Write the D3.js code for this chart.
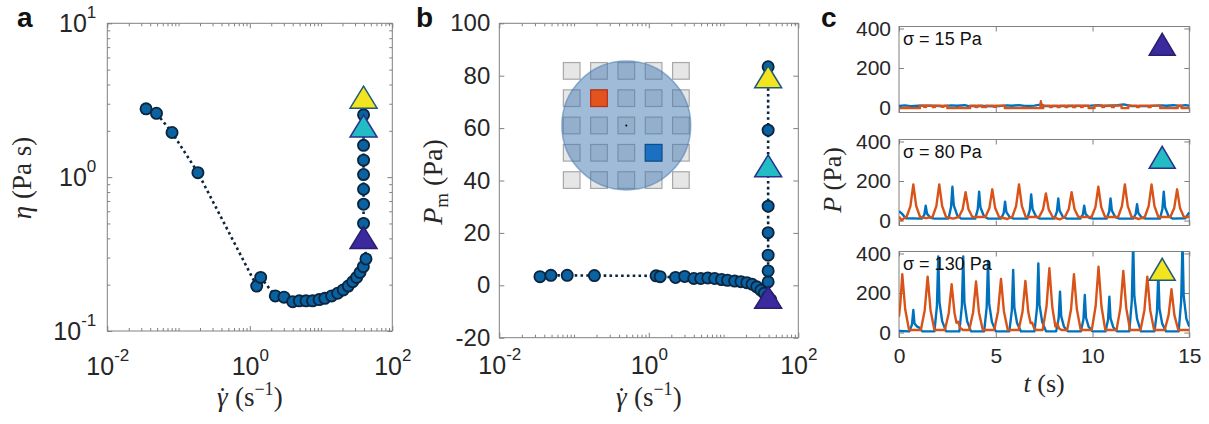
<!DOCTYPE html>
<html>
<head>
<meta charset="utf-8">
<script src="https://cdn.jsdelivr.net/npm/d3@7"></script>
<style>
  body { margin: 0; background: #fff; }
  svg { display: block; }
</style>
</head>
<body>
<script>
// ---------- data ----------
// a / b : flow curve, shared shear rates (s^-1)
const shearRate = [0.035, 0.049, 0.081, 0.187, 1.25, 1.42, 2.28, 3.02, 4.0, 4.95, 6.15, 7.6, 9.4, 11.3, 14.1, 17.1, 20.5, 24.1, 27.8, 31.6, 35.2, 39.2, 42.7];
const viscosity = [2.78, 2.6, 1.95, 1.07, 0.196, 0.223, 0.169, 0.166, 0.155, 0.157, 0.157, 0.157, 0.16, 0.163, 0.169, 0.176, 0.185, 0.196, 0.209, 0.223, 0.24, 0.262, 0.294];
const meanPressure = [3.3, 3.8, 3.8, 3.7, 3.6, 3.3, 3.0, 3.4, 2.6, 2.6, 2.8, 2.6, 2.2, 1.9, 1.6, 1.4, 1.0, 0.4, -0.6, -1.9, -3.0, -4.2, -5.5];
// vertical branch at the critical shear rate
const branchRate = 39.5;
const branchViscosity = [0.5, 0.667, 0.834, 1.04, 1.29, 1.61, 2.05, 2.54];
const branchPressure = [1.3, 5.5, 11.5, 20.1, 30.2, 45, 59.2, 83.4];
// the three highlighted stresses
const stressLabels = ["σ = 15 Pa", "σ = 80 Pa", "σ = 130 Pa"];
const stressViscosity = [0.405, 2.15, 3.31];
const stressPressure = [-4.6, 45.6, 79.6];
const stressFill = ["#3b2a9e", "#21bcc4", "#f2e41e"];
const stressEdge = ["#2a1f70", "#2a318c", "#1f5a78"];

// axes
const rateDomain = [1e-2, 1e2];
const rateMajor = [1e-2, 1, 1e2];
const etaDomain = [0.1, 10];
const etaMajor = [0.1, 1, 10];
const pmDomain = [-20, 100];
const pmTicks = [-20, 0, 20, 40, 60, 80, 100];
const timeDomain = [0, 15];
const timeTicks = [0, 5, 10, 15];
const pDomain = [-25, 410];
const pTicks = [0, 200, 400];

// inset: 5x5 sensor grid, two active sensors (grid units)
const gridIdx = [-2, -1, 0, 1, 2];
const activeCells = [[-1, -1, "#e2531d", "#b8321a"], [1, 1, "#1b70c1", "#0d4f8c"]];
const dropRadius = 2.36;
const cellSize = 0.61;

// c : pressure traces [t (s), P (Pa)]
const blue15 = [[0, 8], [0.3, 11], [0.6, 7], [1.0, 10], [1.6, 9], [2.3, 7], [2.7, 11], [3.0, 9], [3.4, 12], [3.6, 7], [4.3, 8], [5.0, 6], [5.6, 11], [5.8, 9], [6.2, 12], [6.5, 8], [7.0, 10], [7.37, 16], [7.5, 8], [8.2, 7], [9.0, 8], [9.9, 10], [10.3, 12], [10.6, 8], [11.3, 12], [11.6, 16], [12.0, 8], [12.8, 7], [13.6, 11], [13.8, 9], [14.2, 12], [14.5, 8], [14.8, 12], [15, 9]];
const orange15 = [[0, -3], [0.4, -3], [0.4, 2], [0.5, 2], [0.5, -3], [1.08, -3], [1.08, 10], [1.3, 10], [1.3, 3], [1.4, 3], [1.4, 10], [1.75, 10], [1.75, 2], [1.85, 2], [1.85, 10], [2.2, 10], [2.2, 4], [2.3, 4], [2.3, 10], [2.5, 10], [2.5, -3], [3.1, -3], [3.1, 1], [3.2, 1], [3.2, -3], [3.67, -3], [3.67, 10], [3.95, 10], [3.95, 3], [4.05, 3], [4.05, 10], [4.3, 10], [4.3, 2], [4.5, 2], [4.5, 10], [4.9, 10], [4.9, 4], [5.0, 4], [5.0, 10], [5.47, 10], [5.47, -3], [6.4, -3], [6.4, 1], [6.5, 1], [6.5, -3], [7.3, -3], [7.33, 32], [7.37, -3], [7.45, -3], [7.45, 10], [7.8, 10], [7.8, 3], [7.9, 3], [7.9, 10], [8.2, 10], [8.2, 2], [8.3, 2], [8.3, 10], [8.6, 10], [8.6, 3], [8.7, 3], [8.7, 10], [9.0, 10], [9.0, 2], [9.1, 2], [9.1, 10], [9.4, 10], [9.4, 3], [9.5, 3], [9.5, 10], [9.8, 10], [9.8, -3], [10.1, -3], [10.1, 10], [10.5, 10], [10.5, 3], [10.6, 3], [10.6, 10], [11.0, 10], [11.0, 2], [11.1, 2], [11.1, 10], [11.5, 10], [11.5, -3], [11.85, -3], [11.85, 10], [12.3, 10], [12.3, 3], [12.4, 3], [12.4, 10], [12.9, 10], [12.9, 2], [13.0, 2], [13.0, 10], [13.5, 10], [13.5, -3], [14.4, -3], [14.4, 10], [14.6, 10], [14.6, -3], [15, -3]];

const blue80 = [[0, 48], [0.15, 35], [0.35, 12], [1.18, 10], [1.31, 30], [1.38, 75], [1.45, 34], [1.63, 14], [1.83, 10], [2.56, 10], [2.69, 68], [2.76, 171], [2.83, 77], [3.01, 26], [3.21, 10], [3.94, 10], [4.07, 58], [4.14, 146], [4.21, 66], [4.39, 22], [4.59, 10], [5.28, 10], [5.41, 38], [5.48, 95], [5.55, 43], [5.73, 16], [5.93, 10], [6.63, 10], [6.76, 53], [6.83, 132], [6.9, 59], [7.08, 20], [7.28, 10], [8.03, 10], [8.16, 45], [8.23, 112], [8.3, 50], [8.48, 17], [8.68, 10], [9.37, 10], [9.5, 30], [9.57, 75], [9.64, 34], [9.82, 14], [10.02, 10], [10.73, 10], [10.86, 45], [10.93, 112], [11.0, 50], [11.18, 17], [11.38, 10], [12.1, 10], [12.23, 33], [12.3, 83], [12.37, 37], [12.55, 14], [12.75, 10], [13.48, 10], [13.61, 58], [13.68, 146], [13.75, 66], [13.93, 22], [14.13, 10], [14.8, 12], [14.92, 30], [15, 41]];
const orange80 = [[0, 20], [0.12, 2], [0.3, 14], [0.39, 18], [0.59, 73], [0.74, 183], [0.89, 73], [1.09, 18], [1.4, 12], [1.73, 18], [1.93, 73], [2.08, 183], [2.23, 73], [2.43, 18], [2.8, 10], [3.09, 18], [3.29, 57], [3.44, 143], [3.59, 57], [3.79, 18], [4.47, 18], [4.67, 63], [4.82, 158], [4.97, 63], [5.17, 18], [5.6, 8], [5.85, 18], [6.05, 73], [6.2, 183], [6.35, 73], [6.55, 18], [7.24, 18], [7.44, 55], [7.59, 137], [7.74, 55], [7.94, 18], [8.3, 6], [8.57, 18], [8.77, 57], [8.92, 143], [9.07, 57], [9.27, 18], [9.95, 18], [10.15, 68], [10.3, 171], [10.45, 68], [10.65, 18], [11.32, 18], [11.52, 73], [11.67, 183], [11.82, 73], [12.02, 18], [12.4, 8], [12.7, 18], [12.9, 73], [13.05, 183], [13.2, 73], [13.4, 18], [14.02, 18], [14.22, 63], [14.37, 158], [14.52, 63], [14.72, 18], [15, 18]];

const blue130 = [[0, 8], [0.54, 6], [0.67, 40], [0.74, 114], [0.8, 46], [0.94, 30], [1.05, 25], [1.2, 6], [1.83, 6], [1.96, 135], [2.03, 385], [2.09, 154], [2.23, 58], [2.43, 6], [3.12, 6], [3.25, 135], [3.32, 385], [3.38, 154], [3.52, 58], [3.72, 6], [4.4, 6], [4.53, 127], [4.6, 362], [4.66, 145], [4.8, 54], [5.0, 6], [5.7, 6], [5.83, 111], [5.9, 317], [5.96, 127], [6.1, 48], [6.3, 6], [7.0, 6], [7.13, 123], [7.2, 350], [7.26, 140], [7.4, 53], [7.6, 6], [8.12, 6], [8.25, 72], [8.32, 207], [8.38, 83], [8.52, 31], [8.72, 6], [9.4, 6], [9.53, 67], [9.6, 190], [9.66, 76], [9.8, 29], [10.0, 6], [10.67, 6], [10.8, 63], [10.87, 181], [10.93, 72], [11.07, 27], [11.27, 6], [11.9, 6], [12.03, 161], [12.1, 460], [12.16, 184], [12.3, 69], [12.5, 6], [13.2, 6], [13.33, 105], [13.4, 300], [13.46, 120], [13.6, 45], [13.8, 6], [14.45, 6], [14.58, 161], [14.65, 460], [14.71, 184], [14.85, 69], [15, 30]];
const orange130 = [[0, 80], [0.07, 150], [0.17, 295], [0.32, 118], [0.52, 13], [1.13, 13], [1.33, 113], [1.48, 283], [1.63, 113], [1.83, 13], [2.37, 13], [2.57, 98], [2.72, 244], [2.87, 98], [2.97, 50], [3.05, 55], [3.15, 25], [3.3, 13], [3.63, 13], [3.83, 103], [3.98, 258], [4.13, 103], [4.33, 13], [4.92, 13], [5.12, 108], [5.27, 271], [5.42, 108], [5.62, 13], [6.18, 13], [6.38, 104], [6.53, 261], [6.68, 104], [6.8, 48], [6.88, 50], [6.98, 22], [7.1, 13], [7.42, 13], [7.62, 130], [7.77, 325], [7.92, 130], [8.08, 30], [8.18, 45], [8.28, 20], [8.4, 13], [8.69, 13], [8.89, 118], [9.04, 295], [9.19, 118], [9.39, 13], [9.96, 13], [10.16, 133], [10.31, 333], [10.46, 133], [10.66, 13], [11.24, 13], [11.44, 125], [11.59, 312], [11.74, 125], [11.94, 13], [12.48, 13], [12.68, 113], [12.83, 283], [12.98, 113], [13.18, 13], [13.73, 13], [13.93, 88], [14.08, 219], [14.23, 88], [14.43, 13], [15, 13]];
const traces = [[blue15, orange15], [blue80, orange80], [blue130, orange130]];
const cMarker = [13.6, 320];

// ---------- layout & style ----------
const width = 1209, height = 424;
const boxA = { l: 107.3, r: 392.3, t: 23.3, b: 331 };
const boxB = { l: 499.3, r: 798.3, t: 23.3, b: 337.7 };
const boxC = { l: 899, r: 1189.3, h: 86, tops: [26.5, 139.5, 251.5] };
const insetAt = [0.5, 61];
const insetHalf = 54.6;
const axisColor = "#808080";
const textColor = "#262626";
const dotFill = "#0b62a0", dotEdge = "#0a2540";
const lineBlue = "#0072bd", lineOrange = "#d95319";
const serif = "'Liberation Serif', 'DejaVu Serif', serif";

const svg = d3.select("body").append("svg")
    .attr("width", width)
    .attr("height", height)
    .attr("font-family", "'Liberation Sans', Arial, sans-serif");

// box with inside ticks on all four sides (MATLAB look)
function drawFrame(x, y, o) {
    const [l, r] = x.range();
    const [b, t] = y.range();
    const g = svg.append("g").attr("color", axisColor);

    const add = (axis, tx, ty, size) => g.append("g")
        .attr("transform", `translate(${tx},${ty})`)
        .call(axis.tickSizeInner(-size).tickSizeOuter(0))
        .call(s => s.select(".domain").remove())
        .attr("font-family", null)
        .attr("font-size", o.fs);

    const xb = add(d3.axisBottom(x).tickValues(o.xMajor).tickPadding(o.xPad).tickFormat(o.xFmt || (() => "")), 0, b, 5);
    add(d3.axisTop(x).tickValues(o.xMajor).tickFormat(""), 0, t, 5);
    const yl = add(d3.axisLeft(y).tickValues(o.yMajor).tickPadding(o.yPad).tickFormat(o.yFmt), l, 0, 5);
    add(d3.axisRight(y).tickValues(o.yMajor).tickFormat(""), r, 0, 5);

    if (o.xMinor) {
        add(d3.axisBottom(x).tickValues(o.xMinor).tickFormat(""), 0, b, 3);
        add(d3.axisTop(x).tickValues(o.xMinor).tickFormat(""), 0, t, 3);
    }
    if (o.yMinor) {
        add(d3.axisLeft(y).tickValues(o.yMinor).tickFormat(""), l, 0, 3);
        add(d3.axisRight(y).tickValues(o.yMinor).tickFormat(""), r, 0, 3);
    }

    g.append("rect")
        .attr("x", l).attr("y", t)
        .attr("width", r - l).attr("height", b - t)
        .attr("fill", "none")
        .attr("stroke", axisColor);

    g.selectAll("text").attr("fill", textColor);
    return { xb, yl };
}

// "10" with a raised exponent
function powerLabels(sel) {
    sel.selectAll(".tick text").each(function (d) {
        const t = d3.select(this).text("10");
        t.append("tspan")
            .attr("dy", -14)
            .attr("font-size", 17)
            .text(Math.round(Math.log10(d)));
    });
}

const minorOf = (scale, major) => scale.ticks().filter(d => !major.some(m => Math.abs(m - d) / m < 1e-9));

function triPath(w, h) {
    return `M0,${-h / 2}L${w / 2},${h / 2}L${-w / 2},${h / 2}Z`;
}

function panelLetter(txt, x) {
    svg.append("text")
        .attr("x", x).attr("y", 27)
        .attr("font-size", 28)
        .attr("font-weight", "bold")
        .attr("fill", "#111")
        .text(txt);
}

function rateLabel(cx) {
    const t = svg.append("text")
        .attr("x", cx).attr("y", 406)
        .attr("text-anchor", "middle")
        .attr("font-family", serif)
        .attr("font-size", 27)
        .attr("fill", textColor);
    t.append("tspan").attr("font-style", "italic").text("γ");
    t.append("tspan").attr("dx", "-0.36em").text("\u02D9");
    t.append("tspan").attr("dx", "0.3em").text("(s");
    t.append("tspan").attr("dy", -11).attr("font-size", 18).text("−1");
    t.append("tspan").attr("dy", 11).text(")");
}

function flowCurve(x, y, yVals, branchVals, triVals) {
    const pts = shearRate.map((r, i) => [r, yVals[i]])
        .concat(branchVals.map(v => [branchRate, v]));
    const line = d3.line().x(d => x(d[0])).y(d => y(d[1]));

    svg.append("path")
        .datum(pts)
        .attr("d", line)
        .attr("fill", "none")
        .attr("stroke", dotEdge)
        .attr("stroke-width", 2.6)
        .attr("stroke-dasharray", "2.6,3.2");

    svg.append("g").selectAll("circle")
        .data(pts)
        .join("circle")
        .attr("cx", d => x(d[0]))
        .attr("cy", d => y(d[1]))
        .attr("r", 5.6)
        .attr("fill", dotFill)
        .attr("stroke", dotEdge)
        .attr("stroke-width", 1.8);

    svg.append("g").selectAll("path")
        .data(triVals)
        .join("path")
        .attr("transform", d => `translate(${x(branchRate)},${y(d)})`)
        .attr("d", triPath(27, 22))
        .attr("fill", (d, i) => stressFill[i])
        .attr("stroke", (d, i) => stressEdge[i])
        .attr("stroke-width", 1.5);
}

// ---------- panel a ----------
const xA = d3.scaleLog().domain(rateDomain).range([boxA.l, boxA.r]);
const yA = d3.scaleLog().domain(etaDomain).range([boxA.b, boxA.t]);
const axA = drawFrame(xA, yA, {
    fs: 25, xMajor: rateMajor, xMinor: minorOf(xA, rateMajor), xPad: 26, xFmt: d => d,
    yMajor: etaMajor, yMinor: minorOf(yA, etaMajor), yPad: 11, yFmt: d => d
});
powerLabels(axA.xb);
powerLabels(axA.yl);
flowCurve(xA, yA, viscosity, branchViscosity, stressViscosity);

svg.append("text")
    .attr("transform", "translate(31,178) rotate(-90)")
    .attr("text-anchor", "middle")
    .attr("font-family", serif)
    .attr("font-size", 27)
    .attr("fill", textColor)
    .call(t => {
        t.append("tspan").attr("font-style", "italic").text("η");
        t.append("tspan").text(" (Pa s)");
    });
rateLabel((boxA.l + boxA.r) / 2);
panelLetter("a", 17);

// ---------- panel b ----------
const xB = d3.scaleLog().domain(rateDomain).range([boxB.l, boxB.r]);
const yB = d3.scaleLinear().domain(pmDomain).range([boxB.b, boxB.t]);
const axB = drawFrame(xB, yB, {
    fs: 24, xMajor: rateMajor, xMinor: minorOf(xB, rateMajor), xPad: 19, xFmt: d => d,
    yMajor: pmTicks, yPad: 9, yFmt: d => String(d)
});
axB.xb.attr("font-size", 25);
powerLabels(axB.xb);

// inset drawing: sensor grid under a droplet
const cell = d3.scaleLinear().domain([-2, 2]).range([-insetHalf, insetHalf]);
const inset = svg.append("g")
    .attr("transform", `translate(${xB(insetAt[0])},${yB(insetAt[1])})`);
const cellPx = cell(cellSize) - cell(0);
inset.selectAll("rect.cell")
    .data(d3.cross(gridIdx, gridIdx))
    .join("rect")
    .attr("class", "cell")
    .attr("x", d => cell(d[0]) - cellPx / 2)
    .attr("y", d => cell(d[1]) - cellPx / 2)
    .attr("width", cellPx)
    .attr("height", cellPx)
    .attr("fill", "#e6e6e6")
    .attr("stroke", "#a8a8a8")
    .attr("stroke-width", 1.2);
inset.append("circle")
    .attr("r", cell(dropRadius) - cell(0))
    .attr("fill", "#3f77b0")
    .attr("fill-opacity", 0.5)
    .attr("stroke", "#3f77b0")
    .attr("stroke-opacity", 0.55)
    .attr("stroke-width", 1.5);
inset.selectAll("rect.active")
    .data(activeCells)
    .join("rect")
    .attr("class", "active")
    .attr("x", d => cell(d[0]) - cellPx / 2)
    .attr("y", d => cell(d[1]) - cellPx / 2)
    .attr("width", cellPx)
    .attr("height", cellPx)
    .attr("fill", d => d[2])
    .attr("stroke", d => d[3])
    .attr("stroke-width", 1.2);
inset.append("circle").attr("r", 1).attr("fill", "#000");

flowCurve(xB, yB, meanPressure, branchPressure, stressPressure);

svg.append("text")
    .attr("transform", "translate(442,182) rotate(-90)")
    .attr("text-anchor", "middle")
    .attr("font-family", serif)
    .attr("font-size", 28)
    .attr("fill", textColor)
    .call(t => {
        t.append("tspan").attr("font-style", "italic").text("P");
        t.append("tspan").attr("dy", 6).attr("font-size", 19).text("m");
        t.append("tspan").attr("dy", -6).text(" (Pa)");
    });
rateLabel((boxB.l + boxB.r) / 2);
panelLetter("b", 416);

// ---------- panel c ----------
const xC = d3.scaleLinear().domain(timeDomain).range([boxC.l, boxC.r]);
boxC.tops.forEach((top, i) => {
    const y = d3.scaleLinear().domain(pDomain).range([top + boxC.h, top]);
    const last = i === boxC.tops.length - 1;
    drawFrame(xC, y, {
        fs: 21, xMajor: timeTicks, xPad: 11, xFmt: last ? (d => d) : (() => ""),
        yMajor: pTicks, yPad: 8, yFmt: d => d
    });

    const clipId = "clipC" + i;
    svg.append("clipPath").attr("id", clipId)
        .append("rect")
        .attr("x", boxC.l).attr("y", top)
        .attr("width", boxC.r - boxC.l).attr("height", boxC.h);

    const line = d3.line().x(d => xC(d[0])).y(d => y(d[1]));
    const plot = svg.append("g").attr("clip-path", `url(#${clipId})`);
    plot.selectAll("path")
        .data(traces[i])
        .join("path")
        .attr("d", line)
        .attr("fill", "none")
        .attr("stroke", (d, j) => j === 0 ? lineBlue : lineOrange)
        .attr("stroke-width", 2.4)
        .attr("stroke-linejoin", "round");

    svg.append("text")
        .attr("x", boxC.l + 4)
        .attr("y", top + 18)
        .attr("font-size", 18)
        .attr("fill", "#111")
        .text(stressLabels[i]);

    svg.append("path")
        .attr("transform", `translate(${xC(cMarker[0])},${y(cMarker[1])})`)
        .attr("d", triPath(26, 22))
        .attr("fill", stressFill[i])
        .attr("stroke", stressEdge[i])
        .attr("stroke-width", 1.5);
});

svg.append("text")
    .attr("transform", "translate(841,180) rotate(-90)")
    .attr("text-anchor", "middle")
    .attr("font-family", serif)
    .attr("font-size", 26)
    .attr("fill", textColor)
    .call(t => {
        t.append("tspan").attr("font-style", "italic").text("P");
        t.append("tspan").text(" (Pa)");
    });
svg.append("text")
    .attr("x", (boxC.l + boxC.r) / 2)
    .attr("y", 392)
    .attr("text-anchor", "middle")
    .attr("font-family", serif)
    .attr("font-size", 26)
    .attr("fill", textColor)
    .call(t => {
        t.append("tspan").attr("font-style", "italic").text("t");
        t.append("tspan").text(" (s)");
    });
panelLetter("c", 821);
</script>
</body>
</html>
